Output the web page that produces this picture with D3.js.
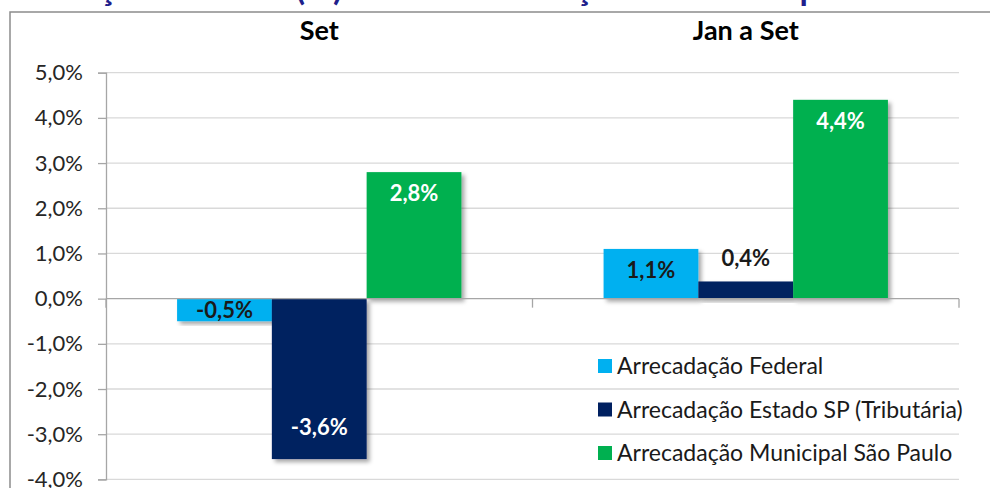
<!DOCTYPE html>
<html>
<head>
<meta charset="utf-8">
<script src="https://cdn.jsdelivr.net/npm/d3@7"></script>
<style>
  body { margin: 0; background: #fff; }
  svg { display: block; font-family: Lato, "Open Sans", sans-serif; }
</style>
</head>
<body>
<svg id="chart"></svg>
<script>
// data
const categories = ["Set", "Jan a Set"];
const seriesNames = [
    "Arrecadação Federal",
    "Arrecadação Estado SP (Tributária)",
    "Arrecadação Municipal São Paulo"
];
const federal = [-0.5, 1.1];
const estadoSP = [-3.55, 0.38];
const municipal = [2.8, 4.4];
const valueLabels = [["-0,5%", "1,1%"], ["-3,6%", "0,4%"], ["2,8%", "4,4%"]];
const yTicks = [5, 4, 3, 2, 1, 0, -1, -2, -3, -4];
const titleText = "Variação Nominal (%) Efetiva em relação ao mesmo período do ano anterior";

const colors = ["#00b0f0", "#002060", "#00b050"];
const seriesValues = [federal, estadoSP, municipal];

const width = 990, height = 488;
const plot = {left: 106, right: 959, top: 72.7, bottom: 479.4};

const svg = d3.select("#chart")
    .attr("width", width)
    .attr("height", height);

// drop shadow like Excel's
const defs = svg.append("defs");
const f = defs.append("filter").attr("id", "shadow")
    .attr("x", "-10%").attr("y", "-10%").attr("width", "130%").attr("height", "130%");
f.append("feDropShadow")
    .attr("dx", 3).attr("dy", 3).attr("stdDeviation", 2)
    .attr("flood-color", "#000").attr("flood-opacity", 0.35);

// title, mostly above the visible area
svg.append("text")
    .attr("x", 22)
    .attr("y", 0)
    .attr("font-size", 34)
    .attr("font-weight", "bold")
    .attr("fill", "#1f1f8c")
    .text(titleText);

// outer frame (runs off the right and bottom)
svg.append("rect")
    .attr("x", 10).attr("y", 12)
    .attr("width", 1000).attr("height", 500)
    .attr("fill", "#fff")
    .attr("stroke", "#8c8c8c")
    .attr("stroke-width", 1.5);

const x0 = d3.scaleBand()
    .domain(categories)
    .range([plot.left, plot.right]);

const x1 = d3.scaleBand()
    .domain(seriesNames)
    .range([0, x0.bandwidth()])
    .paddingOuter(0.75)
    .paddingInner(0);

const y = d3.scaleLinear()
    .domain([-4, 5])
    .range([plot.bottom, plot.top]);

// gridlines
svg.append("g")
    .selectAll("line")
    .data(yTicks.filter(d => d !== 0))
    .join("line")
    .attr("x1", plot.left).attr("x2", plot.right)
    .attr("y1", d => y(d)).attr("y2", d => y(d))
    .attr("stroke", "#d9d9d9")
    .attr("stroke-width", 1.3);

// y axis
const yAxis = d3.axisLeft(y)
    .tickValues(yTicks)
    .tickSize(8)
    .tickFormat(d => d.toFixed(1).replace(".", ",") + "%");

const yAxisG = svg.append("g")
    .attr("transform", `translate(${plot.left},0)`)
    .call(yAxis);
yAxisG.select(".domain").attr("stroke", "#a6a6a6").attr("stroke-width", 1.3);
yAxisG.selectAll(".tick line").attr("stroke", "#a6a6a6").attr("stroke-width", 1.3);
yAxisG.selectAll(".tick text")
    .attr("x", -23)
    .attr("font-size", 22)
    .attr("font-family", "Lato, sans-serif")
    .attr("fill", "#262626");

// bars
const groups = svg.append("g")
    .selectAll("g")
    .data(categories)
    .join("g")
    .attr("transform", d => `translate(${x0(d)},0)`);

const cells = (c, ci) => seriesNames.map((s, si) => ({s, si, ci, v: seriesValues[si][ci]}));

groups.selectAll("rect")
    .data(cells)
    .join("rect")
    .attr("x", d => x1(d.s))
    .attr("width", x1.bandwidth())
    .attr("y", d => y(Math.max(0, d.v)))
    .attr("height", d => Math.abs(y(d.v) - y(0)))
    .attr("fill", d => colors[d.si])
    .attr("filter", "url(#shadow)");

// zero axis with category ticks
svg.append("line")
    .attr("x1", plot.left).attr("x2", plot.right)
    .attr("y1", y(0)).attr("y2", y(0))
    .attr("stroke", "#a6a6a6").attr("stroke-width", 1.3);
svg.append("g")
    .selectAll("line")
    .data([plot.left, x0(categories[1]), plot.right])
    .join("line")
    .attr("x1", d => d).attr("x2", d => d)
    .attr("y1", y(0)).attr("y2", y(0) + 9)
    .attr("stroke", "#a6a6a6").attr("stroke-width", 1.3);

// value labels, "inside end" like Excel
function labelPos(d) {
    const h = Math.abs(y(d.v) - y(0));
    const color = d.si === 0 ? "#1a1a1a" : "#fff";
    if (h < 35) {
        if (d.v < 0) return {y: (y(d.v) + y(0)) / 2 + 8, color};
        return {y: y(d.v) - 15, color: "#1a1a1a"};
    }
    if (d.v >= 0) return {y: y(d.v) + 29, color};
    return {y: y(d.v) - 24, color};
}

groups.selectAll("text.val")
    .data(cells)
    .join("text")
    .attr("class", "val")
    .attr("x", d => x1(d.s) + x1.bandwidth() / 2)
    .attr("y", d => labelPos(d).y)
    .attr("text-anchor", "middle")
    .attr("font-size", 22)
    .attr("font-weight", "bold")
    .attr("fill", d => labelPos(d).color)
    .text(d => valueLabels[d.si][d.ci]);

// category labels on top
svg.append("g")
    .selectAll("text")
    .data(categories)
    .join("text")
    .attr("x", d => x0(d) + x0.bandwidth() / 2)
    .attr("y", 40)
    .attr("text-anchor", "middle")
    .attr("font-size", 27)
    .attr("font-weight", "bold")
    .attr("fill", "#000")
    .text(d => d);

// legend
const legend = svg.append("g")
    .attr("transform", "translate(598,366)");
const items = legend.selectAll("g")
    .data(seriesNames)
    .join("g")
    .attr("transform", (d, i) => `translate(0,${i * 43.5})`);
items.append("rect")
    .attr("x", 0).attr("y", -7)
    .attr("width", 14).attr("height", 14)
    .attr("fill", (d, i) => colors[i]);
items.append("text")
    .attr("x", 19)
    .attr("y", 8)
    .attr("font-size", 23)
    .attr("fill", "#1a1a1a")
    .text(d => d);
</script>
</body>
</html>
